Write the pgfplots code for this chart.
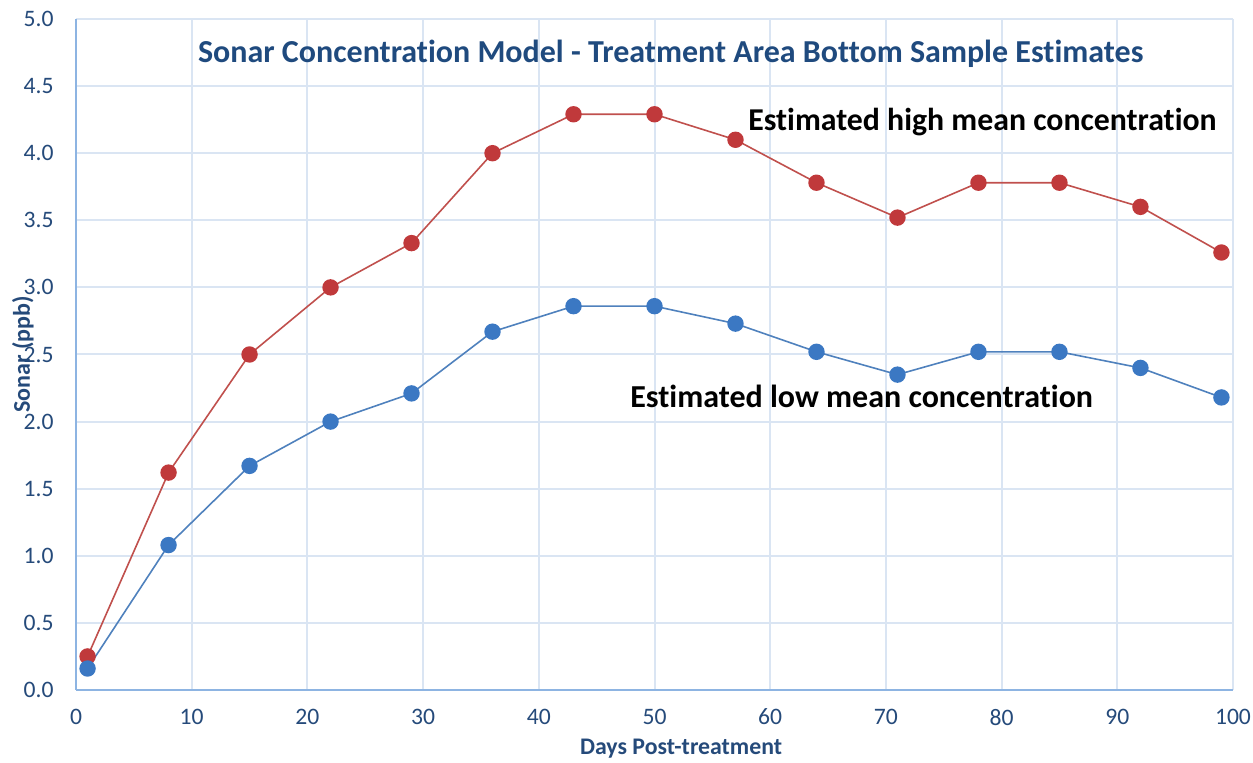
\documentclass[border=0pt]{standalone}
\usepackage{pgfplots}
\pgfplotsset{compat=1.18}
\usepackage{fontspec}
\setmainfont{Carlito}[Ligatures={NoCommon,NoContextual}]
\definecolor{tickblue}{HTML}{254A7A}
\definecolor{titleblue}{HTML}{1F4A7E}
\definecolor{gridc}{HTML}{DAE5F3}
\definecolor{axisc}{HTML}{8DB4E2}
\definecolor{redline}{HTML}{C0504D}
\definecolor{redmark}{HTML}{C0393B}
\definecolor{blueline}{HTML}{4F81BD}
\definecolor{bluemark}{HTML}{3B78C3}
\pgfplotstableread{
x high low
1 0.25 0.16
8 1.62 1.08
15 2.50 1.67
22 3.00 2.00
29 3.33 2.21
36 4.00 2.67
43 4.29 2.86
50 4.29 2.86
57 4.10 2.73
64 3.78 2.52
71 3.52 2.35
78 3.78 2.52
85 3.78 2.52
92 3.60 2.40
99 3.26 2.18
}\datatable
\begin{document}
\begin{tikzpicture}
\begin{axis}[
  scale only axis,
  width=578.5pt, height=335.5pt,
  xmin=0, xmax=100, ymin=0, ymax=5,
  xtick={0,10,...,100},
  ytick={0,0.5,...,5},
  axis x line*=bottom, axis y line*=left,
  axis line style={draw=axisc, line width=1pt, -},
  grid=major,
  major grid style={draw=gridc, line width=1pt},
  major tick length=0pt,
  tick label style={font=\fontsize{11.8}{13}\selectfont, text=tickblue},
  /pgf/number format/assume math mode=true,
  yticklabel style={/pgf/number format/fixed, /pgf/number format/fixed zerofill, /pgf/number format/precision=1, inner xsep=11pt},
  xticklabel style={/pgf/number format/fixed},
  xticklabel shift=6pt,
  xlabel={Days Post-treatment},
  ylabel={Sonar (ppb)},
  label style={text=tickblue},
  xlabel style={font=\fontsize{11.9}{13}\selectfont\bfseries, at={(axis description cs:0.523,-0.087)}, anchor=center},
  ylabel style={font=\fontsize{12}{13}\selectfont\bfseries, at={(axis description cs:-0.046,0.5)}, anchor=center},
  clip=false,
]
\addplot[draw=redline, line width=0.8pt, mark=*, mark size=3.7pt,
  mark options={fill=redmark, draw=redmark}] table[x=x, y=high] {\datatable};
\addplot[draw=blueline, line width=0.8pt, mark=*, mark size=3.7pt,
  mark options={fill=bluemark, draw=bluemark}] table[x=x, y=low] {\datatable};
\node[font=\fontsize{16}{19}\selectfont\bfseries, text=titleblue] at (axis cs:51.4,4.74)
  {Sonar Concentration Model - Treatment Area Bottom Sample Estimates};
\node[font=\fontsize{15.9}{19}\selectfont\bfseries, anchor=west] at (axis cs:57.5,4.23)
  {Estimated high mean concentration};
\node[font=\fontsize{16}{19}\selectfont\bfseries, anchor=west] at (axis cs:47.3,2.19)
  {Estimated low mean concentration};
\end{axis}
\pgfresetboundingbox
\path (current axis.south west) ++(-38pt,-36.5pt) coordinate (bl);
\path (current axis.north east) ++(10pt,9.5pt) coordinate (tr);
\path[use as bounding box] (bl) rectangle (tr);
\end{tikzpicture}
\end{document}
